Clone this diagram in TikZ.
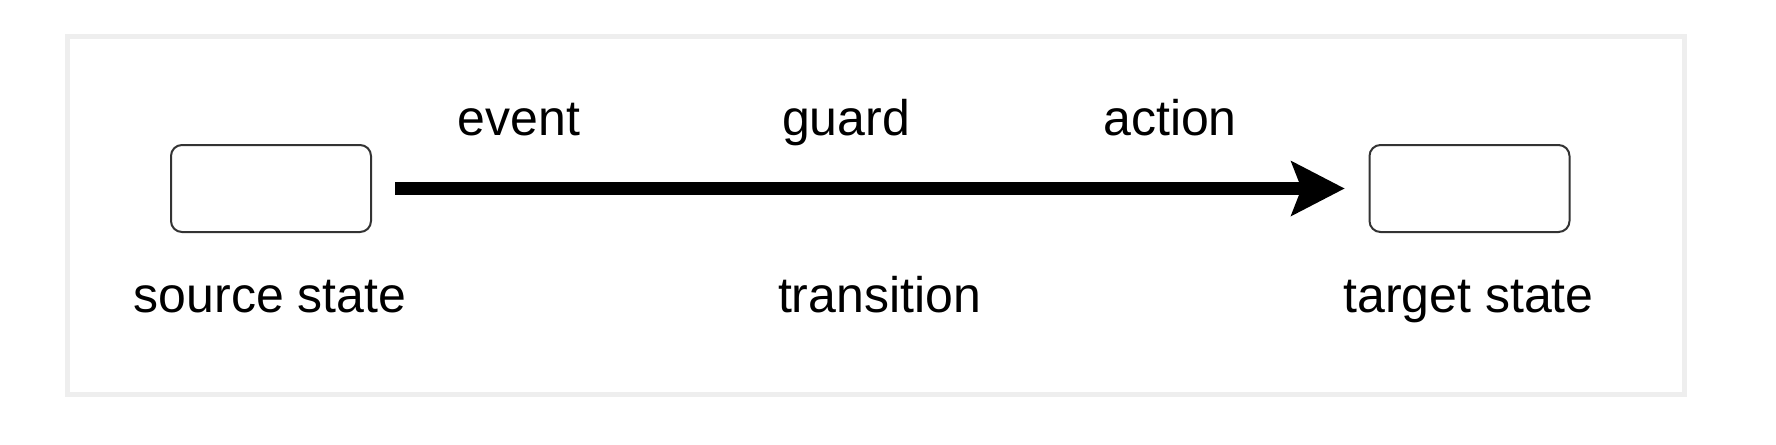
\documentclass[tikz,border=0pt]{standalone}
\usepackage{fontspec}
\setmainfont{Liberation Sans}
\usetikzlibrary{arrows.meta}
\definecolor{framegray}{HTML}{EEEEEE}
\definecolor{boxline}{HTML}{333333}
\tikzset{
  statebox/.style={draw=boxline, line width=2pt, rounded corners=11pt, minimum width=200pt, minimum height=87pt, inner sep=0pt, fill=white},
  lbl/.style={anchor=base, inner sep=0pt, font=\fontsize{50}{60}\selectfont, text=black},
  trans/.style={line width=13pt, -{Stealth[length=54pt, width=56pt, inset=11pt, line width=0pt]}},
}
\begin{document}
\begin{tikzpicture}[x=1pt, y=-1pt]
\useasboundingbox (0,0) rectangle (1776,444);
\fill[white] (0,0) rectangle (1776,444);
\draw[framegray, line width=5pt] (67.5,36.5) rectangle (1684.5,394.5);
\node[statebox] (src) at (271,188.5) {};
\node[statebox] (tgt) at (1469.5,188.5) {};
\draw[trans, shorten <=23pt, shorten >=24pt] (src.east) -- (tgt.west);
\node[lbl] (srcl) at (270,312) {source state};
\node[lbl] (tgtl) at (1468.5,312) {target state};
\node[lbl] (ev) at (519,135) {event};
\node[lbl] (gd) at (846,135) {guard};
\node[lbl] (ac) at (1170,135) {action};
\node[lbl] (tr) at (879.5,312) {transition};
\end{tikzpicture}
\end{document}
